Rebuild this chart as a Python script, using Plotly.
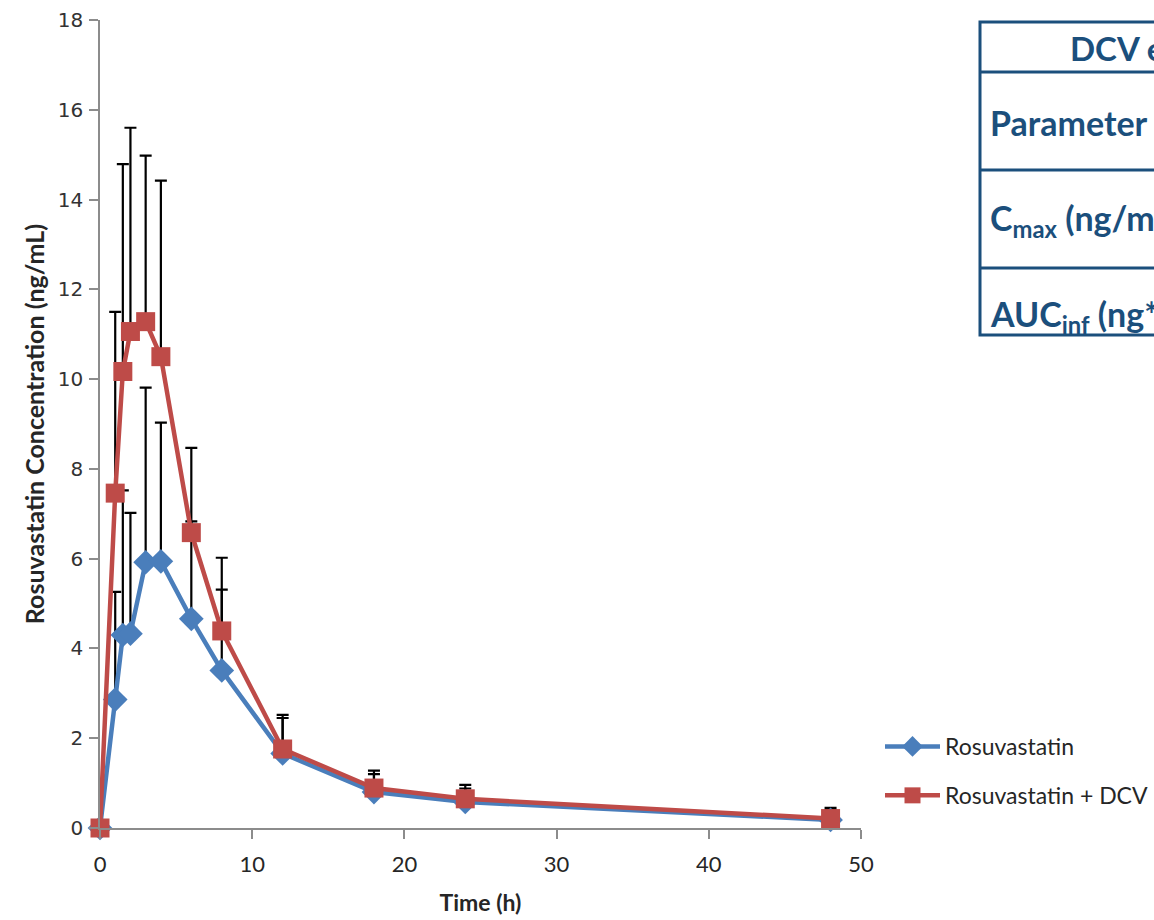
import plotly.graph_objects as go

# ---- data ----
time_h = [0, 1, 1.5, 2, 3, 4, 6, 8, 12, 18, 24, 48]
rosu_mean = [0, 2.86, 4.30, 4.33, 5.92, 5.94, 4.66, 3.51, 1.66, 0.80, 0.58, 0.18]
rosu_sd = [0, 2.40, 3.22, 2.69, 3.89, 3.09, 2.17, 1.80, 0.79, 0.40, 0.30, 0.22]
dcv_mean = [0, 7.46, 10.17, 11.06, 11.28, 10.50, 6.58, 4.39, 1.76, 0.89, 0.65, 0.21]
dcv_sd = [0, 4.04, 4.62, 4.54, 3.70, 3.92, 1.89, 1.63, 0.76, 0.39, 0.31, 0.24]

series_names = ["Rosuvastatin", "Rosuvastatin + DCV"]
x_ticks = [0, 10, 20, 30, 40, 50]
y_ticks = [0, 2, 4, 6, 8, 10, 12, 14, 16, 18]

table_header = "DCV effect on rosuvastatin pharmacokinetics"
table_rows = ["Parameter", "C<sub>max</sub> (ng/mL)", "AUC<sub>inf</sub> (ng*h/mL)"]

BLUE = "#4A7EBB"
RED = "#BE4B48"
NAVY = "#1B4F7C"
TXT = "#262626"
FONT = "Lato, Open Sans, sans-serif"

fig = go.Figure()

# error bars (drawn first, behind all markers)
for mean, sd in [(rosu_mean, rosu_sd), (dcv_mean, dcv_sd)]:
    fig.add_trace(go.Scatter(
        x=time_h, y=mean, mode="markers",
        marker=dict(size=2, opacity=0),
        error_y=dict(type="data", array=sd, arrayminus=[0] * len(sd), symmetric=False,
                     color="black", thickness=2.2, width=6),
        showlegend=False, hoverinfo="skip", cliponaxis=False,
    ))

fig.add_trace(go.Scatter(
    x=time_h, y=rosu_mean, mode="lines+markers", name=series_names[0],
    line=dict(color=BLUE, width=4.5),
    marker=dict(symbol="diamond", size=19, color=BLUE),
    legendgroup="a", cliponaxis=False,
))
fig.add_trace(go.Scatter(
    x=time_h, y=dcv_mean, mode="lines+markers", name=series_names[1],
    line=dict(color=RED, width=4.5),
    marker=dict(symbol="square", size=19, color=RED),
    legendgroup="b", cliponaxis=False,
))

L, T, PW, PH = 100, 20, 761, 808
W, H = 1154, 920


def px_x(p):
    return (p - L) / PW


def px_y(p):
    return (T + PH - p) / PH


axis_common = dict(
    showline=True, linecolor="#8C8C8C", linewidth=1.5,
    ticks="outside", ticklen=9, tickcolor="#8C8C8C", tickwidth=1.5,
    showgrid=False, zeroline=False,
)

fig.update_layout(
    width=W, height=H,
    margin=dict(l=L, r=W - L - PW, t=T, b=H - T - PH, autoexpand=False),
    paper_bgcolor="white", plot_bgcolor="white",
    font=dict(family=FONT, color=TXT),
    xaxis=dict(range=[0, 50], tickvals=x_ticks,
               tickfont=dict(size=22, family=FONT, color=TXT),
               ticklabelstandoff=7,
               title=dict(text="<b>Time (h)</b>", font=dict(size=23), standoff=19),
               **axis_common),
    yaxis=dict(range=[0, 18], tickvals=y_ticks,
               tickfont=dict(size=20, family="DejaVu Sans, sans-serif", color="#333333"),
               ticklabelstandoff=2,
               title=dict(text="<b>Rosuvastatin Concentration (ng/mL)</b>", font=dict(size=25), standoff=6),
               **axis_common),
    legend=dict(x=px_x(880), y=px_y(725), xanchor="left", yanchor="top",
                font=dict(size=23, color=TXT), tracegroupgap=16, itemwidth=55,
                bgcolor="rgba(0,0,0,0)"),
    showlegend=True,
)

# table (top right, extends beyond the page)
row_lines = [22, 72, 170, 268, 335]
fig.add_shape(type="rect", xref="paper", yref="paper",
              x0=px_x(980), x1=px_x(1400), y0=px_y(335), y1=px_y(22),
              line=dict(color=NAVY, width=3), fillcolor="white", layer="above")
for yl in row_lines[1:-1]:
    fig.add_shape(type="line", xref="paper", yref="paper",
                  x0=px_x(980), x1=px_x(1400), y0=px_y(yl), y1=px_y(yl),
                  line=dict(color=NAVY, width=3))
fig.add_annotation(xref="paper", yref="paper", x=px_x(1068), y=px_y(48),
                   xanchor="left", yanchor="middle", showarrow=False,
                   text="<b>" + table_header + "</b>",
                   font=dict(size=33, color=NAVY, family=FONT))
for txt, yc in zip(table_rows, [122, 220, 316]):
    fig.add_annotation(xref="paper", yref="paper", x=px_x(988), y=px_y(yc),
                       xanchor="left", yanchor="middle", showarrow=False,
                       text="<b>" + txt + "</b>",
                       font=dict(size=34, color=NAVY, family=FONT))

fig.write_html("out.html")
